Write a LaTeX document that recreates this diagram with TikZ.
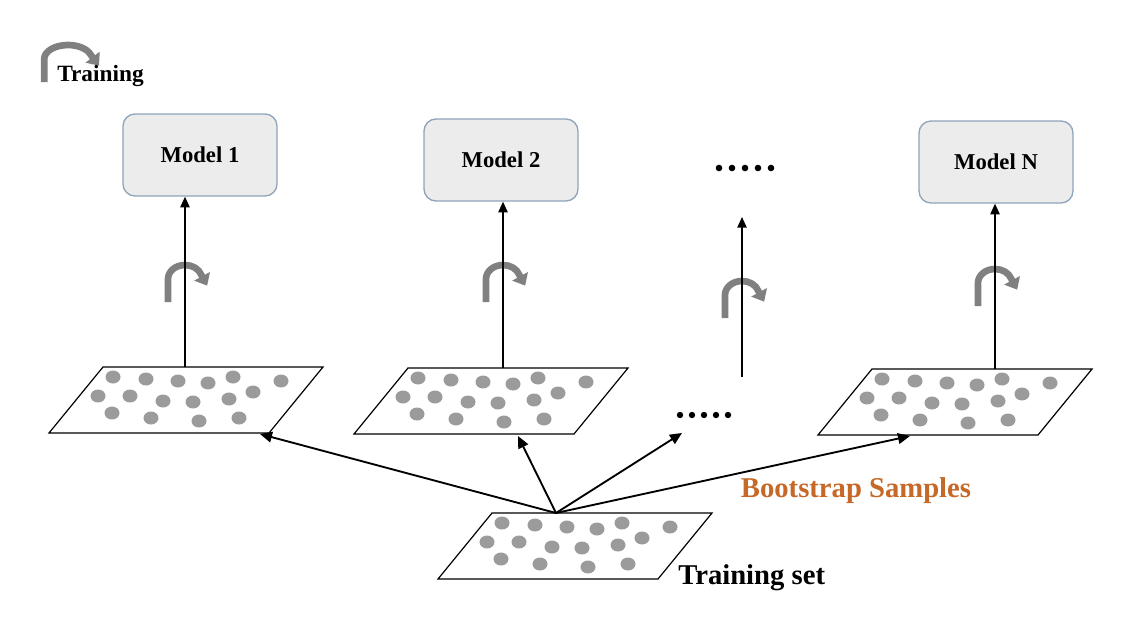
\documentclass[tikz,border=0pt]{standalone}
\usepackage{fontspec}
\setmainfont{Liberation Serif}
\usepackage{tikz}
\usetikzlibrary{arrows.meta}

\definecolor{boxfill}{RGB}{236,236,236}
\definecolor{boxline}{RGB}{143,163,186}
\definecolor{dotgray}{RGB}{155,155,155}
\definecolor{spingray}{RGB}{128,128,128}
\definecolor{bootorange}{RGB}{197,104,40}

\tikzset{
  model/.style={draw=boxline, line width=1pt, fill=boxfill, rounded corners=9pt,
    minimum width=115.5pt, minimum height=61.5pt, inner sep=0pt,
    font=\bfseries\fontsize{17}{20}\selectfont},
  uparrow/.style={-{Triangle[width=7pt,length=8pt]}, line width=1.1pt},
  spread/.style={-{Triangle[width=8pt,length=9pt]}, line width=1.4pt},
  spinline/.style={spingray, line width=5pt, -{Triangle[width=13pt,length=8pt]}},
  textlab/.style={font=\bfseries\fontsize{21.5}{24}\selectfont, inner sep=0pt},
  sample/.pic={
    \draw[line width=0.9pt, fill=white] (0,0) -- (220,0) -- (166,66) -- (-54,66) -- cycle;
    \foreach \dx/\dy in {10/10, 43/12, 75/14, 105/16, 130/10, 178/14,
                         -5/29, 27/29, 60/34, 90/35, 126/32, 150/25,
                         9/46, 48/51, 96/54, 136/51}
      \fill[dotgray] (\dx,\dy) ellipse [x radius=7.5, y radius=6.5];
  },
  spin/.pic={
    \draw[spinline] (-17,40) -- (-17,17)
      arc [start angle=180, end angle=342, x radius=17, y radius=14] -- ++(6,11);
  }
}

\begin{document}
\begin{tikzpicture}[x=0.75pt, y=-0.75pt]
  \useasboundingbox (0,0) rectangle (1131,632);

  % legend
  \pic[xscale=1.4, yscale=1.0] at (68,42) {spin};
  \node[anchor=west, inner sep=0pt, font=\bfseries\fontsize{17.5}{20}\selectfont] (legend) at (57,76) {Training};

  % models
  \node[model] (M1) at (200,155) {Model 1};
  \node[model] (M2) at (501,160) {Model 2};
  \node[model] (MN) at (996,162) {Model N};
  \foreach \i in {0,...,4}
    \fill (719+13*\i,168) circle [radius=3.3];

  % bootstrap samples and training set
  \pic at (103,367) {sample};
  \pic at (408,368) {sample};
  \pic at (872,369) {sample};
  \pic at (492,513) {sample};
  \foreach \i in {0,...,4}
    \fill (680+12*\i,415) circle [radius=3.2];

  \coordinate (S1) at (185,367);
  \coordinate (S2) at (503,368);
  \coordinate (SN) at (995,369);
  \coordinate (G1) at (742,377);
  \coordinate (G2) at (742,217);
  \coordinate (T) at (556,513);
  \coordinate (B1) at (260,434);
  \coordinate (B2) at (518,436);
  \coordinate (B3) at (682,433);
  \coordinate (BN) at (910,436);

  % training step
  \pic at (185,262) {spin};
  \pic at (503,262) {spin};
  \pic at (742,278) {spin};
  \pic at (995,266) {spin};
  \draw[uparrow] (S1) -- (S1 |- M1.south);
  \draw[uparrow] (S2) -- (S2 |- M2.south);
  \draw[uparrow] (SN) -- (SN |- MN.south);
  \draw[uparrow] (G1) -- (G2);

  \draw[spread] (T) -- (B1);
  \draw[spread] (T) -- (B2);
  \draw[spread] (T) -- (B3);
  \draw[spread] (T) -- (BN);

  \node[textlab, text=bootorange] (boot) at (856,491) {Bootstrap Samples};
  \node[textlab, anchor=west] (tset) at (678,578) {Training set};
\end{tikzpicture}
\end{document}
